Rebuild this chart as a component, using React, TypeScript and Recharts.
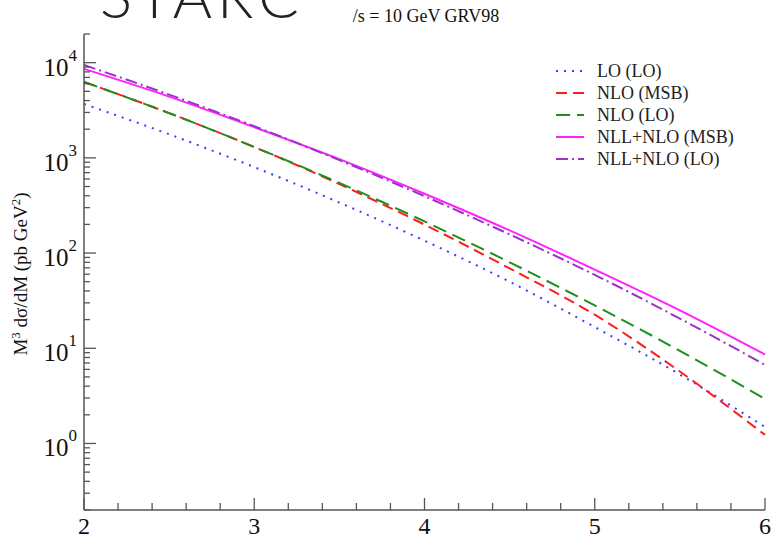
import { LineChart, Line, XAxis, YAxis, Legend } from "recharts";

const SERIF = "'Liberation Serif', 'DejaVu Serif', serif";
const FRAME = "#555";

// invariant mass M (GeV)
const massGeV = [2, 2.5, 3, 3.5, 4, 4.5, 5, 5.5, 6];

// M^3 dsigma/dM (pb GeV^2)
const loLO = [3680, 1770, 800, 339, 135, 50, 16.7, 5.3, 1.49];
const nloMSB = [6270, 2950, 1300, 530, 199, 69, 22.5, 5.7, 1.23];
const nloLO = [6270, 2950, 1300, 545, 215, 80, 28.2, 9.4, 2.94];
const nllMSB = [8600, 4400, 2100, 970, 420, 173, 67, 25, 8.6];
const nllLO = [9460, 4620, 2150, 946, 396, 157, 59, 20.5, 6.7];

const xTicks = [
  2, 2.2, 2.4, 2.6, 2.8, 3, 3.2, 3.4, 3.6, 3.8, 4, 4.2, 4.4, 4.6, 4.8, 5, 5.2, 5.4, 5.6, 5.8, 6,
];
const yDecades = [1, 10, 100, 1000, 10000];
const yTicks = [
  0.2, 0.3, 0.4, 0.5, 0.6, 0.7, 0.8, 0.9, 1, 2, 3, 4, 5, 6, 7, 8, 9, 10, 20, 30, 40, 50, 60, 70,
  80, 90, 100, 200, 300, 400, 500, 600, 700, 800, 900, 1000, 2000, 3000, 4000, 5000, 6000, 7000,
  8000, 9000, 10000, 20000,
];

const series = [
  { key: "loLO", name: "LO (LO)", color: "#3b3bff", dash: "2 6", values: loLO },
  { key: "nloMSB", name: "NLO (MSB)", color: "#ff1c1c", dash: "11 6", values: nloMSB },
  { key: "nloLO", name: "NLO (LO)", color: "#1e8f1e", dash: "14 7", values: nloLO },
  { key: "nllMSB", name: "NLL+NLO (MSB)", color: "#ff22ff", dash: undefined, values: nllMSB },
  { key: "nllLO", name: "NLL+NLO (LO)", color: "#9933cc", dash: "12 4 2 4", values: nllLO },
];

const rows = massGeV.map((m, i) => {
  const row: Record<string, number> = { m };
  series.forEach((s) => (row[s.key] = s.values[i]));
  return row;
});

const isDecade = (v: number) => yDecades.includes(v);

// ticks are drawn inward, on all four sides of the frame
const BottomTick = ({ x, y, payload }: any) => {
  const major = Number.isInteger(payload.value);
  return (
    <g>
      <line x1={x} x2={x} y1={y} y2={y - (major ? 12 : 7)} stroke={FRAME} strokeWidth={1.3} />
      {major && (
        <text x={x} y={y + 24} textAnchor="middle" fontSize={24} fontFamily={SERIF} fill="#111">
          {payload.value}
        </text>
      )}
    </g>
  );
};

const TopTick = ({ x, y, payload }: any) => {
  const major = Number.isInteger(payload.value);
  return <line x1={x} x2={x} y1={y} y2={y + (major ? 12 : 7)} stroke={FRAME} strokeWidth={1.3} />;
};

const LeftTick = ({ x, y, payload }: any) => {
  const major = isDecade(payload.value);
  const exp = Math.round(Math.log10(payload.value));
  return (
    <g>
      <line x1={x} x2={x + (major ? 12 : 6)} y1={y} y2={y} stroke={FRAME} strokeWidth={1.3} />
      {major && (
        <text x={x - 7} y={y + 13} textAnchor="end" fontSize={25} fontFamily={SERIF} fill="#111">
          10
          <tspan dy={-15} fontSize={17}>
            {exp}
          </tspan>
        </text>
      )}
    </g>
  );
};

const RightTick = ({ x, y, payload }: any) => {
  const major = isDecade(payload.value);
  return <line x1={x} x2={x - (major ? 12 : 6)} y1={y} y2={y} stroke={FRAME} strokeWidth={1.3} />;
};

const renderLegend = () => (
  <div style={{ fontFamily: SERIF, fontSize: 18, color: "#222" }}>
    {series.map((s) => (
      <div key={s.key} style={{ display: "flex", alignItems: "center", height: 22 }}>
        <svg width={30} height={10} style={{ marginRight: 12 }}>
          <line x1={1} x2={29} y1={5} y2={5} stroke={s.color} strokeWidth={2} strokeDasharray={s.dash} />
        </svg>
        <span style={{ whiteSpace: "nowrap" }}>{s.name}</span>
      </div>
    ))}
  </div>
);

const axisLine = { stroke: FRAME, strokeWidth: 1.5 };

export default function App() {
  return (
    <div style={{ position: "absolute", left: 0, top: 0, background: "#fff" }}>
      <LineChart width={773} height={540} data={rows} margin={{ top: 34, right: 8, bottom: 0, left: 0 }}>
        {/* header lettering, running off the top edge */}
        <text
          x={100}
          y={18}
          fontSize={60}
          fontWeight={300}
          letterSpacing={5}
          fontFamily="Lato, 'Liberation Sans', sans-serif"
          fill="#222"
        >
          STARC
        </text>
        <text x={426} y={22} textAnchor="middle" fontSize={18} fontFamily={SERIF} fill="#111">
          /s = 10 GeV GRV98
        </text>
        <text
          transform="translate(27,274) rotate(-90)"
          textAnchor="middle"
          fontSize={19}
          fontFamily={SERIF}
          fill="#111"
        >
          M<tspan dy={-7} fontSize={13}>3</tspan>
          <tspan dy={7}> dσ/dM (pb GeV</tspan>
          <tspan dy={-7} fontSize={13}>2</tspan>
          <tspan dy={7}>)</tspan>
        </text>

        <XAxis
          xAxisId="b"
          dataKey="m"
          type="number"
          domain={[2, 6]}
          ticks={xTicks}
          interval={0}
          height={30}
          tickSize={0}
          tickMargin={0}
          tickLine={false}
          axisLine={axisLine}
          tick={<BottomTick />}
        />
        <XAxis
          xAxisId="t"
          orientation="top"
          dataKey="m"
          type="number"
          domain={[2, 6]}
          ticks={xTicks}
          interval={0}
          height={0}
          tickSize={0}
          tickMargin={0}
          tickLine={false}
          axisLine={axisLine}
          tick={<TopTick />}
        />
        <YAxis
          yAxisId="l"
          scale="log"
          type="number"
          domain={[0.2, 20000]}
          allowDataOverflow
          ticks={yTicks}
          interval={0}
          width={84}
          tickSize={0}
          tickMargin={0}
          tickLine={false}
          axisLine={axisLine}
          tick={<LeftTick />}
        />
        <YAxis
          yAxisId="r"
          orientation="right"
          scale="log"
          type="number"
          domain={[0.2, 20000]}
          allowDataOverflow
          ticks={yTicks}
          interval={0}
          width={0}
          tickSize={0}
          tickMargin={0}
          tickLine={false}
          axisLine={axisLine}
          tick={<RightTick />}
        />

        <Legend
          layout="horizontal"
          verticalAlign="middle"
          align="center"
          width={215}
          content={renderLegend}
          wrapperStyle={{ left: 555, top: 60, width: 215 }}
        />

        {series.map((s) => (
          <Line
            key={s.key}
            xAxisId="b"
            yAxisId="l"
            type="monotone"
            dataKey={s.key}
            name={s.name}
            stroke={s.color}
            strokeWidth={2}
            strokeDasharray={s.dash}
            dot={false}
            activeDot={false}
            isAnimationActive={false}
          />
        ))}
      </LineChart>
    </div>
  );
}
